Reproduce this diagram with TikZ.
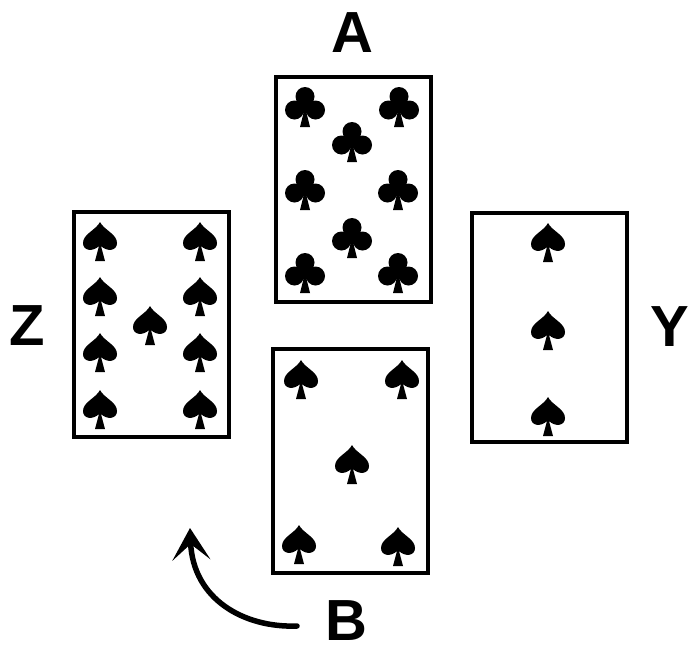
\documentclass[tikz,border=0pt]{standalone}
\usepackage{fontspec}
\setmainfont{Liberation Sans}
\usetikzlibrary{positioning, arrows.meta}

\begin{document}
\begin{tikzpicture}[x=1pt, y=-1pt,
  card/.style={draw, line width=3.5pt, minimum width=155pt, minimum height=225pt, inner sep=0pt},
  player/.style={font=\fontsize{58}{58}\selectfont\bfseries, inner sep=0pt},
  spade/.pic={\fill (0,-20) .. controls (4,-12) and (17,-8) .. (17,1) .. controls (17,9) and (7,10) .. (1,4) -- (5,19) -- (-5,19) -- (-1,4) .. controls (-7,10) and (-17,9) .. (-17,1) .. controls (-17,-8) and (-4,-12) .. (0,-20) -- cycle;},
  club/.pic={\fill (0,-10.5) circle (9.5);
    \fill (-10.5,3) circle (9.5);
    \fill (10.5,3) circle (9.5);
    \fill (0,2) circle (5);
    \fill (0,0) -- (5,20) -- (-5,20) -- cycle;}]
\useasboundingbox (0,0) rectangle (700,662);
% the four cards
\node[card] (cardA) at (353.5,189.5) {};
\node[card] (cardZ) at (151.5,324.5) {};
\node[card, minimum height=229pt] (cardY) at (549.5,327.5) {};
\node[card, minimum height=224pt] (cardB) at (350.5,461) {};
% players
\node[player] (playerA) at (352,33) {A};
\node[player] (playerZ) at (27,326) {Z};
\node[player] (playerY) at (670,327) {Y};
\node[player] (playerB) at (346,621) {B};
% clubs on A
\foreach \x/\y in {305/107, 399/107, 352/142, 305/190, 398/190, 352/238, 305/273, 398/273}
  \pic at (\x,\y) {club};
% spades on Z
\foreach \y in {242, 297, 353, 410} {
  \pic at (100,\y) {spade};
  \pic at (200,\y) {spade};
}
\pic at (150,326) {spade};
% spades on Y
\foreach \y in {243, 331, 417}
  \pic at (548,\y) {spade};
% spades on B
\foreach \x/\y in {301/380, 402/380, 352/465, 299/545, 398/547}
  \pic at (\x,\y) {spade};
% the turn
\coordinate (turnfrom) at (297,626);
\coordinate (turnto) at (190,528);
\draw[line width=5.5pt, line cap=round, -{Stealth[length=32pt, width=38pt, inset=16pt]}] (turnfrom) .. controls (245,628) and (193,600) .. (turnto);
\end{tikzpicture}
\end{document}
